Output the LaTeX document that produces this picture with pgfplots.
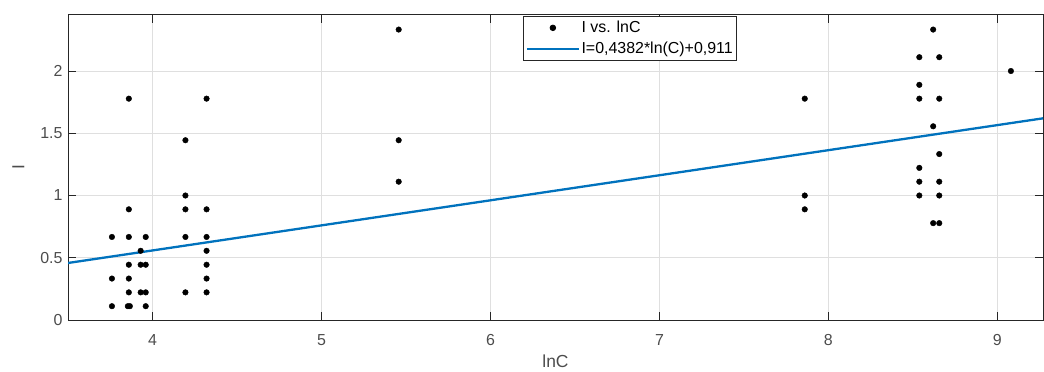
\documentclass[border=0pt]{standalone}
\usepackage{pgfplots}
\pgfplotsset{compat=1.18}
\usepackage{fontspec}
\setmainfont{Liberation Sans}
\definecolor{mblue}{rgb}{0,0.447,0.741}
\definecolor{axgray}{rgb}{0.15,0.15,0.15}
\definecolor{txtgray}{rgb}{0.3,0.3,0.3}
\pgfplotsset{
  dotlegend/.style={legend image code/.code={\draw[##1] plot coordinates {(26bp,0bp)};}},
  linelegend/.style={legend image code/.code={\draw[##1] (0bp,0bp) -- (52bp,0bp);}},
}
\begin{document}
\begin{tikzpicture}[x=1bp,y=1bp]
\useasboundingbox (0,0) rectangle (1044,371);
\begin{axis}[
  at={(68bp,51bp)}, anchor=south west,
  scale only axis, width=975bp, height=305bp,
  xmin=3.5, xmax=9.27, ymin=0, ymax=2.45,
  xtick={4,5,6,7,8,9}, ytick={0,0.5,1,1.5,2},
  yticklabels={0,0.5,1,1.5,2},
  /pgf/number format/assume math mode=true,
  tick align=inside, major tick length=8bp,
  axis line style={axgray, line width=1bp},
  tick style={axgray, line width=0.8bp},
  grid=major, major grid style={gray!25, line width=0.6bp},
  ticklabel style={font=\fontsize{16}{18}\selectfont, text=txtgray},
  xticklabel style={yshift=-11bp},
  yticklabel style={xshift=-2bp},
  xlabel={lnC}, ylabel={I},
  label style={font=\fontsize{17.5}{20}\selectfont, text=txtgray},
  xlabel style={yshift=-2bp},
  ylabel style={yshift=9bp},
  legend style={at={(0.467,0.997)}, anchor=north west, draw=axgray, line width=0.8bp,
    font=\fontsize{16}{18}\selectfont, inner xsep=2bp, inner ysep=4bp, row sep=6bp,
    legend cell align=left, nodes={inner xsep=1.5bp, inner ysep=1bp}},
]
\addplot[only marks, mark=*, mark size=2.8bp, black, dotlegend] table {
x y
3.76 0.667
3.76 0.333
3.76 0.111
3.86 1.778
3.86 0.889
3.86 0.667
3.86 0.444
3.86 0.333
3.86 0.222
3.854 0.111
3.866 0.111
3.93 0.556
3.93 0.444
3.93 0.222
3.96 0.667
3.96 0.444
3.96 0.222
3.96 0.111
4.195 1.444
4.195 1.0
4.195 0.889
4.195 0.667
4.195 0.222
4.32 1.778
4.32 0.889
4.32 0.667
4.32 0.556
4.32 0.444
4.32 0.333
4.32 0.222
5.457 2.333
5.457 1.444
5.457 1.111
7.86 1.778
7.86 1.0
7.86 0.889
8.538 2.111
8.538 1.889
8.538 1.778
8.538 1.222
8.538 1.111
8.538 1.0
8.62 2.333
8.62 1.556
8.62 0.778
8.656 2.111
8.656 1.778
8.656 1.333
8.656 1.111
8.656 1.0
8.656 0.778
9.08 2.0
};
\addlegendentry{I vs. lnC}
\addplot[mblue, line width=2.3bp, linelegend] coordinates {(3.5,0.458) (9.27,1.62)};
\addlegendentry{I=0,4382*ln(C)+0,911}
\end{axis}
\end{tikzpicture}
\end{document}
